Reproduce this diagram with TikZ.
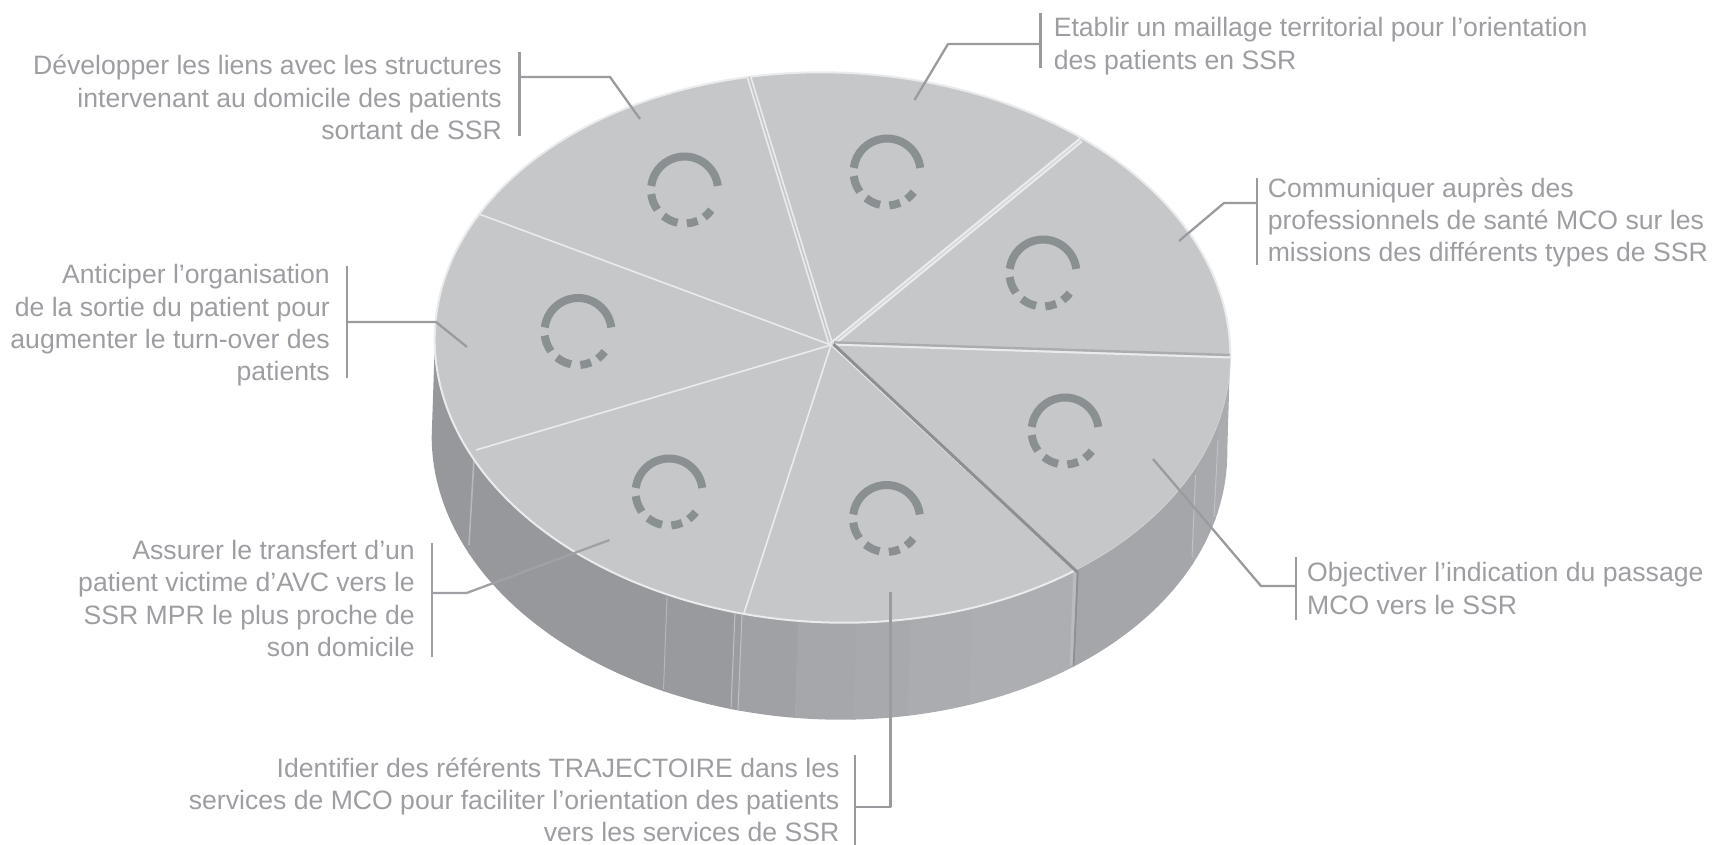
\documentclass[tikz,border=0pt]{standalone}
\usepackage{fontspec}
\setmainfont{Liberation Sans}
\definecolor{txt}{HTML}{9D9EA2}
\definecolor{lead}{HTML}{9A9B9F}
\definecolor{leadpale}{HTML}{A0A1A5}
\definecolor{facec}{HTML}{C6C7C9}
\definecolor{edgec}{HTML}{EAEBEC}
\definecolor{ringc}{HTML}{8A8F91}
\definecolor{darksp}{HTML}{8E8F93}
\definecolor{seamA}{HTML}{B6B7BA}
\definecolor{seamB}{HTML}{C0C1C3}
\definecolor{shadeb}{HTML}{ABACAF}
\definecolor{ribbon}{HTML}{BABBBE}
\definecolor{rimthin}{HTML}{D0D1D3}
\definecolor{midsp}{HTML}{D3D4D6}
\tikzset{
  lbl/.style={text=txt,inner sep=0pt,font=\fontsize{26.6}{32.3}\selectfont},
  lft/.style={lbl,align=left,anchor=west},
  rgt/.style={lbl,align=right,anchor=east},
  leader/.style={draw=lead,line width=2.3pt,line join=round},
  bracketbar/.style={draw=lead,line width=2.2pt},
  thinspoke/.style={draw=edgec,line width=1.6pt},
  seam/.style={draw=#1,line width=1pt},
  dashring/.pic={
    \foreach \s/\e in {7/173,187/216,231/258,274/293,306/323}
      \draw[ringc,line width=8pt] (\s:33.5pt) arc[start angle=\s,end angle=\e,radius=33.5pt];
  }
}
\begin{document}
\begin{tikzpicture}[x=1pt,y=-1pt]
\useasboundingbox (0,0) rectangle (1712,845);
% side of the cylinder
\begin{scope}
\clip plot[domain=-2:178.5,samples=120,smooth] ({829.5+398*cos(\x)*cos(2.2)-275*sin(\x)*sin(2.2)},{444.5+398*cos(\x)*sin(2.2)+275*sin(\x)*cos(2.2)}) -- (435,337) -- (1230,358) -- cycle;
\foreach \a/\b/\c in {420/467/97989C,467/667/97989C,667/735.5/999A9E,735.5/742.5/9B9CA0,742.5/799.5/A0A1A5,799.5/858/A6A7AA,858/912/A8A9AC,912/973.5/ABACAF,973.5/1075.5/ADAEB2,1075.5/1191/A5A6AA,1191/1212/A8A9AC,1212/1240/ABACAF}{
  \definecolor{bandc}{HTML}{\c}
  \fill[bandc] ({\a+11},300) -- ({\b+12.5},300) -- ({\b-6.5},800) -- ({\a-8},800) -- cycle;
}
\end{scope}
\draw[seam=seamA,line width=1.6pt] (474.5,450) -- (469,545);
\draw[seam=seamA] (667,597) -- (663.5,689);
\draw[seam=seamB] (735,613) -- (731,708);
\draw[seam=seamB] (742,615) -- (738,710);
\draw[ribbon,line width=3.4pt] (1075,571) -- (1071.5,665);
\draw[darksp,line width=1.8pt] (1077.8,571) -- (1073.6,665);
\draw[seam=seamB] (1195.5,475) -- (1192,557);
\draw[seam=seamB] (1218,440) -- (1214,517);
% top face
\begin{scope}[shift={(832.5,347.5)},rotate=-2.2]
\fill[facec] (0,0) ellipse[x radius=398pt,y radius=275pt];
\draw[edgec,line width=2pt] plot[domain=51:359,samples=150,smooth] ({398*cos(\x)},{275*sin(\x)});
\draw[rimthin,line width=.8pt] plot[domain=-1:51,samples=30,smooth] ({398*cos(\x)},{275*sin(\x)});
\end{scope}
\coordinate (hub) at (831,345);
\coordinate (s1) at (479,214);
\coordinate (s2) at (749,77);
\coordinate (s3) at (1081,140);
\coordinate (s4) at (1230,357);
\coordinate (s5) at (1076,571);
\coordinate (s6) at (744,613);
\coordinate (s7) at (476,450);
\draw[thinspoke] (hub) -- (s1);
\draw[thinspoke] (hub) -- (s6);
\draw[thinspoke] (hub) -- (s7);
\draw[edgec,line width=5pt] (hub) -- (s2);
\draw[facec,line width=1.6pt] (hub) -- (s2);
\draw[edgec,line width=5.5pt] (hub) -- (s3);
\draw[midsp,line width=1.2pt] (hub) -- (s3);
\draw[shadeb,line width=2.4pt] ([xshift=3pt,yshift=2.6pt]hub) -- ([yshift=2pt]s4);
\draw[edgec,line width=2pt] ([xshift=2pt,yshift=.4pt]hub) -- ([yshift=-.5pt]s4);
\draw[edgec,line width=1.6pt] ([xshift=-.8pt,yshift=1pt]hub) -- ([xshift=-1.4pt,yshift=1pt]s5);
\draw[darksp,line width=3pt] ([xshift=2.4pt,yshift=.8pt]hub) -- ([xshift=1pt,yshift=-.8pt]s5);
% rings
\path (684.5,190) pic{dashring};
\path (887,172) pic{dashring};
\path (1043,273) pic{dashring};
\path (578,331.5) pic{dashring};
\path (1065,431) pic{dashring};
\path (669,492) pic{dashring};
\path (886.5,518.5) pic{dashring};
% labels
\node[rgt] (t1) at (502,97.5) {Développer les liens avec les structures\\intervenant au domicile des patients\\sortant de SSR};
\node[lft] (t2) at (1053.6,46) {Etablir un maillage territorial pour l’orientation\\des patients en SSR};
\node[lft] (t3) at (1267.6,222.5) {Communiquer auprès des\\professionnels de santé MCO sur les\\missions des différents types de SSR};
\node[lft] (t4) at (1307,588.5) {Objectiver l’indication du passage\\MCO vers le SSR};
\node[rgt] (t5) at (839.6,800) {Identifier des référents TRAJECTOIRE dans les\\services de MCO pour faciliter l’orientation des patients\\vers les services de SSR};
\node[rgt] (t6) at (415,598.5) {Assurer le transfert d’un\\patient victime d’AVC vers le\\SSR MPR le plus proche de\\son domicile};
\node[rgt] (t7) at (330,325.5) {Anticiper l’organisation\\de la sortie du patient pour\\augmenter le turn-over des\\patients};
% leaders
\coordinate (b1a) at (519.5,52); \coordinate (b1b) at (519.5,136);
\coordinate (j1) at (519.5,77); \coordinate (k1) at (610,77); \coordinate (e1) at (640,119);
\draw[bracketbar] (b1a) -- (b1b); \draw[leader] (j1) -- (k1) -- (e1);
\coordinate (b2a) at (1040.5,13); \coordinate (b2b) at (1040.5,68);
\coordinate (j2) at (1040.5,44); \coordinate (k2) at (948,44); \coordinate (e2) at (914.5,100);
\draw[bracketbar] (b2a) -- (b2b); \draw[leader] (j2) -- (k2) -- (e2);
\coordinate (b3a) at (1257,178); \coordinate (b3b) at (1257,265);
\coordinate (j3) at (1257,203); \coordinate (k3) at (1224,203); \coordinate (e3) at (1179,241);
\draw[bracketbar] (b3a) -- (b3b); \draw[leader] (j3) -- (k3) -- (e3);
\coordinate (b4a) at (1296,557); \coordinate (b4b) at (1296,620);
\coordinate (j4) at (1296,586); \coordinate (k4) at (1261,586); \coordinate (e4) at (1153,459);
\draw[bracketbar] (b4a) -- (b4b); \draw[leader] (j4) -- (k4) -- (e4);
\coordinate (b5a) at (855,755); \coordinate (b5b) at (855,845);
\coordinate (j5) at (855,807); \coordinate (k5) at (890.6,807); \coordinate (e5) at (890.6,592);
\draw[bracketbar] (b5a) -- (b5b); \draw[leader] (j5) -- (k5) -- (e5);
\coordinate (b6a) at (431.6,543); \coordinate (b6b) at (431.6,657);
\coordinate (j6) at (431.6,593); \coordinate (k6) at (466.6,593); \coordinate (e6) at (609.5,540);
\draw[bracketbar,draw=leadpale] (b6a) -- (b6b); \draw[leader,draw=leadpale] (j6) -- (k6) -- (e6);
\coordinate (b7a) at (347,266); \coordinate (b7b) at (347,378);
\coordinate (j7) at (347,322); \coordinate (k7) at (436,322); \coordinate (e7) at (467,347);
\draw[bracketbar] (b7a) -- (b7b); \draw[leader] (j7) -- (k7) -- (e7);
\end{tikzpicture}
\end{document}
